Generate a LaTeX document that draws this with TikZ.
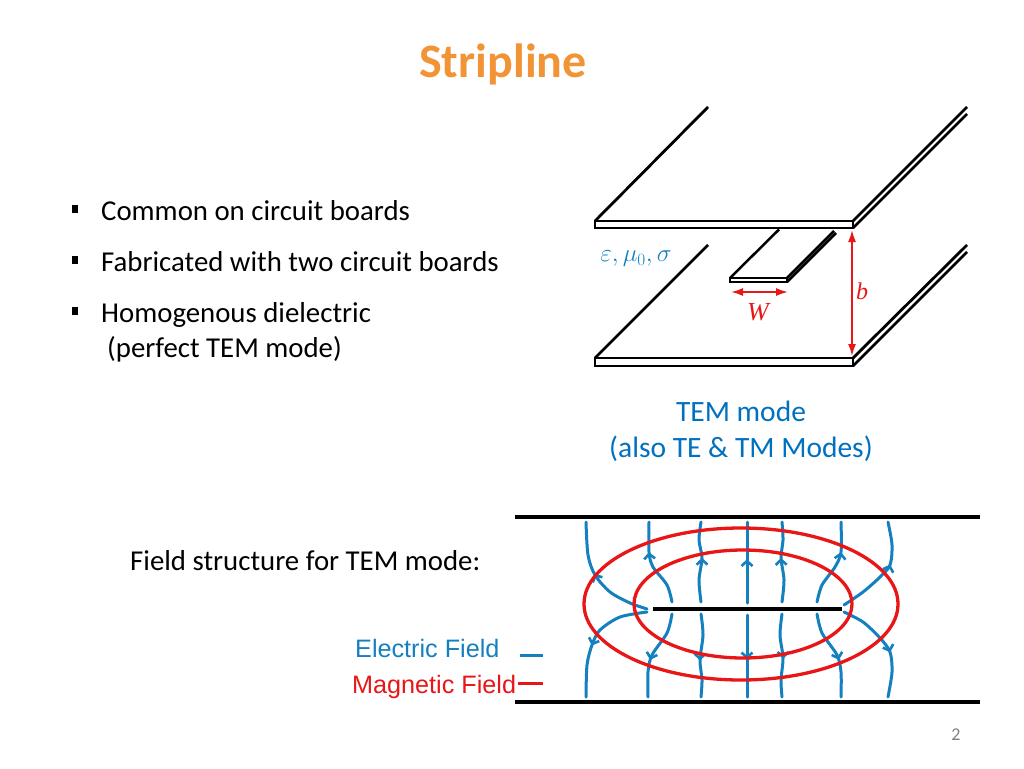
\documentclass[tikz,border=0pt]{standalone}
\usepackage{fontspec}
\setmainfont{Carlito}
\newfontfamily\arialfont{Liberation Sans}
\newfontfamily\timesfont{Liberation Serif}
\usetikzlibrary{decorations.markings}
\usetikzlibrary{arrows.meta}
\usetikzlibrary{positioning}
\usetikzlibrary{calc}
\definecolor{titleorange}{RGB}{242,148,54}
\definecolor{textblue}{RGB}{0,112,192}
\definecolor{fieldblue}{RGB}{20,128,192}
\definecolor{fieldred}{RGB}{232,22,22}

\begin{document}
\begin{tikzpicture}[x=1pt, y=-1pt,
	bodyText/.style={anchor=base west, inner sep=0pt, font=\fontsize{28.8}{34}\selectfont},
	bulletMark/.style={fill=black, minimum width=6.5pt, minimum height=7.5pt, inner sep=0pt},
	plate/.style={line width=2.8pt, line join=miter, fill=white},
	dimArrow/.style={fieldred, line width=1.7pt, {Latex[length=12pt, width=8pt]}-{Latex[length=12pt, width=8pt]}},
	eline/.style={fieldblue, line width=3pt, line cap=round, postaction={decorate, decoration={markings,
		mark=at position #1 with {\arrow{Straight Barb[length=5pt, width=11pt, line width=2.6pt]}}}}},
	hloop/.style={fieldred, line width=3.3pt},
	ground/.style={line width=3.3pt}]
	\useasboundingbox (0,0) rectangle (1024,768);

	% title and bullets
	\node[font=\fontsize{48}{56}\bfseries\selectfont, text=titleorange] (title) at (503,64) {Stripline};
	\node[bodyText] (common) at (101,220) {Common on circuit boards};
	\node[bodyText] (fabricated) at (101,271) {Fabricated with two circuit boards};
	\node[bodyText] (homogenous) at (101,322) {Homogenous dielectric};
	\node[bodyText] (perfect) at (107,357) {(perfect TEM mode)};
	\node[bulletMark] at (75,209) {};
	\node[bulletMark] at (75,260) {};
	\node[bulletMark] at (75,311) {};

	% stripline sketch
	\coordinate (topFL) at (595,221);
	\coordinate (topFR) at (853,228);
	\coordinate (botFL) at (595,358);
	\coordinate (botFR) at (853,366);
	\draw[plate] (topFL) -- (708,107);
	\draw[plate] (853,221) -- (967,107);
	\draw[plate] (topFR) -- (967,114);
	\draw[plate] (botFL) -- (708,245);
	\draw[plate] (853,358) -- (967,245);
	\draw[plate] (botFR) -- (967,252);
	\draw[line width=2.5pt] (730,278) -- (779,229.5);
	\draw[line width=2.5pt] (787,278) -- (834,231);
	\draw[line width=2.5pt] (787,282) -- (836,233);
	\draw[line width=2.3pt, fill=white] (730,278) rectangle (787,282);
	\draw[plate] (topFL) rectangle (topFR);
	\draw[plate] (botFL) rectangle (botFR);

	\coordinate (bTop) at (852,230);
	\coordinate (bBot) at (852,356);
	\draw[dimArrow] (bTop) -- (bBot);
	\node[text=fieldred, font=\timesfont\itshape\fontsize{24}{26}\selectfont] (bLbl) at (862,291) {b};
	\coordinate (wLeft) at (731,292);
	\coordinate (wRight) at (788,292);
	\draw[dimArrow] (wLeft) -- (wRight);
	\node[text=fieldred, font=\timesfont\itshape\fontsize{26}{28}\selectfont] (wLbl) at (758,312) {W};
	\node[text=fieldblue, font=\fontsize{25}{28}\selectfont] (medium) at (636,259) {$\varepsilon, \mu_0, \sigma$};

	\node[text=textblue, font=\fontsize{29.5}{34}\selectfont, anchor=base] (temMode) at (741,421) {TEM mode};
	\node[text=textblue, font=\fontsize{29.5}{34}\selectfont, anchor=base] (alsoModes) at (741,457) {(also TE \& TM Modes)};

	% field structure
	\node[bodyText] (fieldTitle) at (130,570) {Field structure for TEM mode:};
	\node[text=fieldblue, font=\arialfont\fontsize{25.2}{28}\selectfont, anchor=base west, inner sep=0pt] (electricLbl) at (355,657) {Electric Field};
	\node[text=fieldred, font=\arialfont\fontsize{25.2}{28}\selectfont, anchor=base west, inner sep=0pt] (magneticLbl) at (352,693) {Magnetic Field};
	\draw[fieldblue, line width=3pt] (520,655) -- (543,655);
	\draw[fieldred, line width=3pt] (518,683) -- (543,683);

	\draw[eline=0.55] plot[smooth] coordinates {(647,609) (630,603) (610,592) (595,575) (588,555) (586,522)};
	\draw[eline=0.57] plot[smooth] coordinates {(647,612) (620,617) (600,630) (592,645) (587,665) (586,697)};
	\draw[eline=0.65] plot[smooth] coordinates {(672,602) (667,585) (653,567) (649,552) (649,522)};
	\draw[eline=0.58] plot[smooth] coordinates {(672,614) (667,633) (652,655) (648,672) (648,697)};
	\draw[eline=0.55] plot[smooth] coordinates {(701,602) (699,580) (702,558) (699,540) (701,522)};
	\draw[eline=0.56] plot[smooth] coordinates {(701,614) (703,635) (700,660) (702,680) (701,697)};
	\draw[eline=0.54] (747,603) -- (747,522);
	\draw[eline=0.54] (747,615) -- (747,697);
	\draw[eline=0.55] plot[smooth] coordinates {(782,602) (784,580) (781,558) (783,540) (782,522)};
	\draw[eline=0.54] plot[smooth] coordinates {(782,614) (780,635) (783,658) (781,680) (782,697)};
	\draw[eline=0.65] plot[smooth] coordinates {(817,602) (822,585) (835,567) (841,552) (841,522)};
	\draw[eline=0.58] plot[smooth] coordinates {(817,614) (822,633) (837,655) (841,672) (841,697)};
	\draw[eline=0.59] plot[smooth] coordinates {(844,605) (863,592) (880,577) (890,565) (892,545) (888,522)};
	\draw[eline=0.58] plot[smooth] coordinates {(844,612) (863,622) (880,638) (890,652) (892,672) (888,697)};

	\draw[hloop] (741,604) ellipse [x radius=157, y radius=76];
	\draw[hloop] (743,604) ellipse [x radius=109, y radius=54];

	\coordinate (stripL) at (653,609);
	\coordinate (stripR) at (842,609);
	\draw[ground] (stripL) -- (stripR);
	\draw[ground] (515,517) -- (980,517);
	\draw[ground] (515,702) -- (980,702);

	\node[text=black!50, font=\fontsize{18}{20}\selectfont] (pageNum) at (956,735) {2};
\end{tikzpicture}
\end{document}
